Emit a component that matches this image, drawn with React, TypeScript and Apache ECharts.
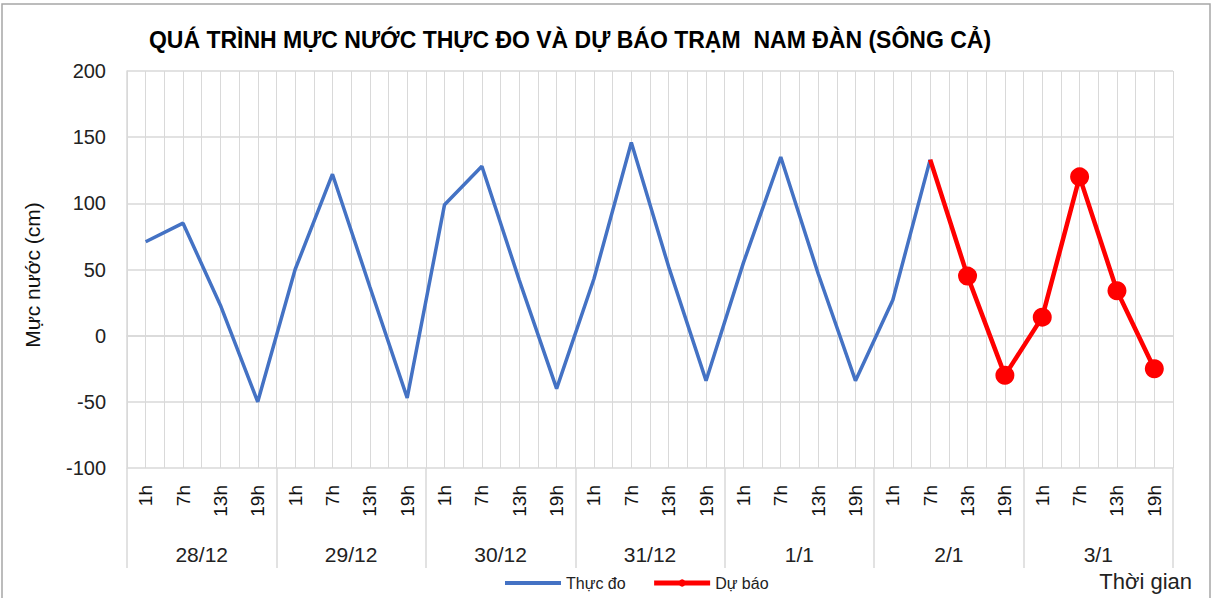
import React, { useEffect, useRef } from "react";
import * as echarts from "echarts";

const days = ["28/12", "29/12", "30/12", "31/12", "1/1", "2/1", "3/1"];
const hours = ["1h", "7h", "13h", "19h"];
const observed = [71, 85, 23, -50, 50, 122, 37, -47, 99, 128, 42, -40, 43, 146, 52, -34, 55, 135, 47, -34, 27, 133];
const forecastStartValue = 133;
const forecast = [45, -30, 14, 120, 34, -25];
const yTicks = { min: -100, max: 200, interval: 50 };

const categories: string[] = [];
days.forEach((d) => hours.forEach((h) => categories.push(h)));
const halfCats: string[] = [];
categories.forEach((c, i) => { halfCats.push("a" + i); halfCats.push("b" + i); });

const FONT = "'Liberation Sans', 'DejaVu Sans', sans-serif";

export default function App() {
  const ref = useRef<HTMLDivElement>(null);
  useEffect(() => {
    document.body.style.margin = "0";
    const chart = echarts.init(ref.current!, null, { renderer: "svg" });
    const obsData: (number | null)[] = categories.map((_, i) => (i < observed.length ? observed[i] : null));
    const fcData: any[] = categories.map(() => null);
    const startIdx = observed.length - 1;
    fcData[startIdx] = { value: forecastStartValue, symbol: "none" };
    forecast.forEach((v, i) => (fcData[startIdx + 1 + i] = v));

    chart.setOption({
      animation: false,
      backgroundColor: "#ffffff",
      textStyle: { fontFamily: FONT },
      grid: { left: 127, right: 41, top: 71, bottom: 130, containLabel: false },
      legend: {
        data: [
          { name: "Thực đo", itemStyle: { opacity: 0 }, lineStyle: { width: 4 } },
          { name: "Dự báo", lineStyle: { width: 5 } },
        ],
        left: 498,
        top: 570,
        itemWidth: 56,
        itemHeight: 9,
        itemGap: 26,
        textStyle: { fontSize: 16, color: "#222", fontFamily: FONT },
      },
      xAxis: [
        {
          type: "category",
          data: categories,
          boundaryGap: true,
          axisLine: { show: true, lineStyle: { color: "#d9d9d9", width: 1.5 } },
          axisTick: { show: false },
          splitLine: { show: false },
          axisLabel: { interval: 0, rotate: 90, fontSize: 19, margin: 17, color: "#111", fontFamily: FONT },
        },
        {
          type: "category",
          data: halfCats,
          position: "bottom",
          boundaryGap: true,
          axisLine: { show: false },
          axisTick: { show: false },
          axisLabel: { show: false },
          splitLine: { show: true, interval: 0, lineStyle: { color: "#d9d9d9", width: 1 } },
        },
        {
          type: "category",
          data: days,
          position: "bottom",
          boundaryGap: true,
          axisLine: { show: false },
          axisTick: { show: true, interval: 0, length: 100, lineStyle: { color: "#d9d9d9", width: 1.5 } },
          axisLabel: { interval: 0, fontSize: 21, margin: 76, color: "#222", fontFamily: FONT },
          splitLine: { show: false },
        },
      ],
      yAxis: {
        type: "value",
        min: yTicks.min,
        max: yTicks.max,
        interval: yTicks.interval,
        axisLine: { show: true, lineStyle: { color: "#d9d9d9", width: 1.5 } },
        axisTick: { show: false },
        axisLabel: { fontSize: 20, margin: 21, color: "#222", fontFamily: FONT },
        splitLine: { show: true, lineStyle: { color: "#d9d9d9", width: 1.5 } },
      },
      series: [
        {
          name: "Thực đo",
          type: "line",
          xAxisIndex: 0,
          data: obsData,
          symbol: "none",
          lineStyle: { color: "#4472c4", width: 3.5 },
          itemStyle: { color: "#4472c4" },
          z: 2,
        },
        {
          name: "Dự báo",
          type: "line",
          xAxisIndex: 0,
          data: fcData,
          symbol: "circle",
          symbolSize: 19,
          showAllSymbol: true,
          lineStyle: { color: "#ff0000", width: 4.5 },
          itemStyle: { color: "#ff0000" },
          z: 3,
        },
      ],
      graphic: [
        {
          type: "rect",
          shape: { x: 2, y: 4, width: 1208, height: 600 },
          style: { fill: "none", stroke: "#a6a6a6", lineWidth: 1.5 },
          silent: true,
        },
        {
          type: "text",
          x: 570,
          y: 40,
          style: {
            text: "QUÁ TRÌNH MỰC NƯỚC THỰC ĐO VÀ DỰ BÁO TRẠM  NAM ĐÀN (SÔNG CẢ)",
            fontSize: 23,
            fontWeight: "bold",
            fontFamily: FONT,
            fill: "#000",
            align: "center",
            verticalAlign: "middle",
          },
        },
        {
          type: "text",
          x: 32,
          y: 275,
          rotation: Math.PI / 2,
          style: {
            text: "Mực nước (cm)",
            fontSize: 21,
            fontFamily: FONT,
            fill: "#111",
            align: "center",
            verticalAlign: "middle",
          },
        },
        {
          type: "text",
          x: 1192,
          y: 581,
          style: {
            text: "Thời gian",
            fontSize: 22,
            fontFamily: FONT,
            fill: "#222",
            align: "right",
            verticalAlign: "middle",
          },
        },
      ],
    });
    return () => chart.dispose();
  }, []);
  return <div ref={ref} style={{ width: 1214, height: 598 }} />;
}
